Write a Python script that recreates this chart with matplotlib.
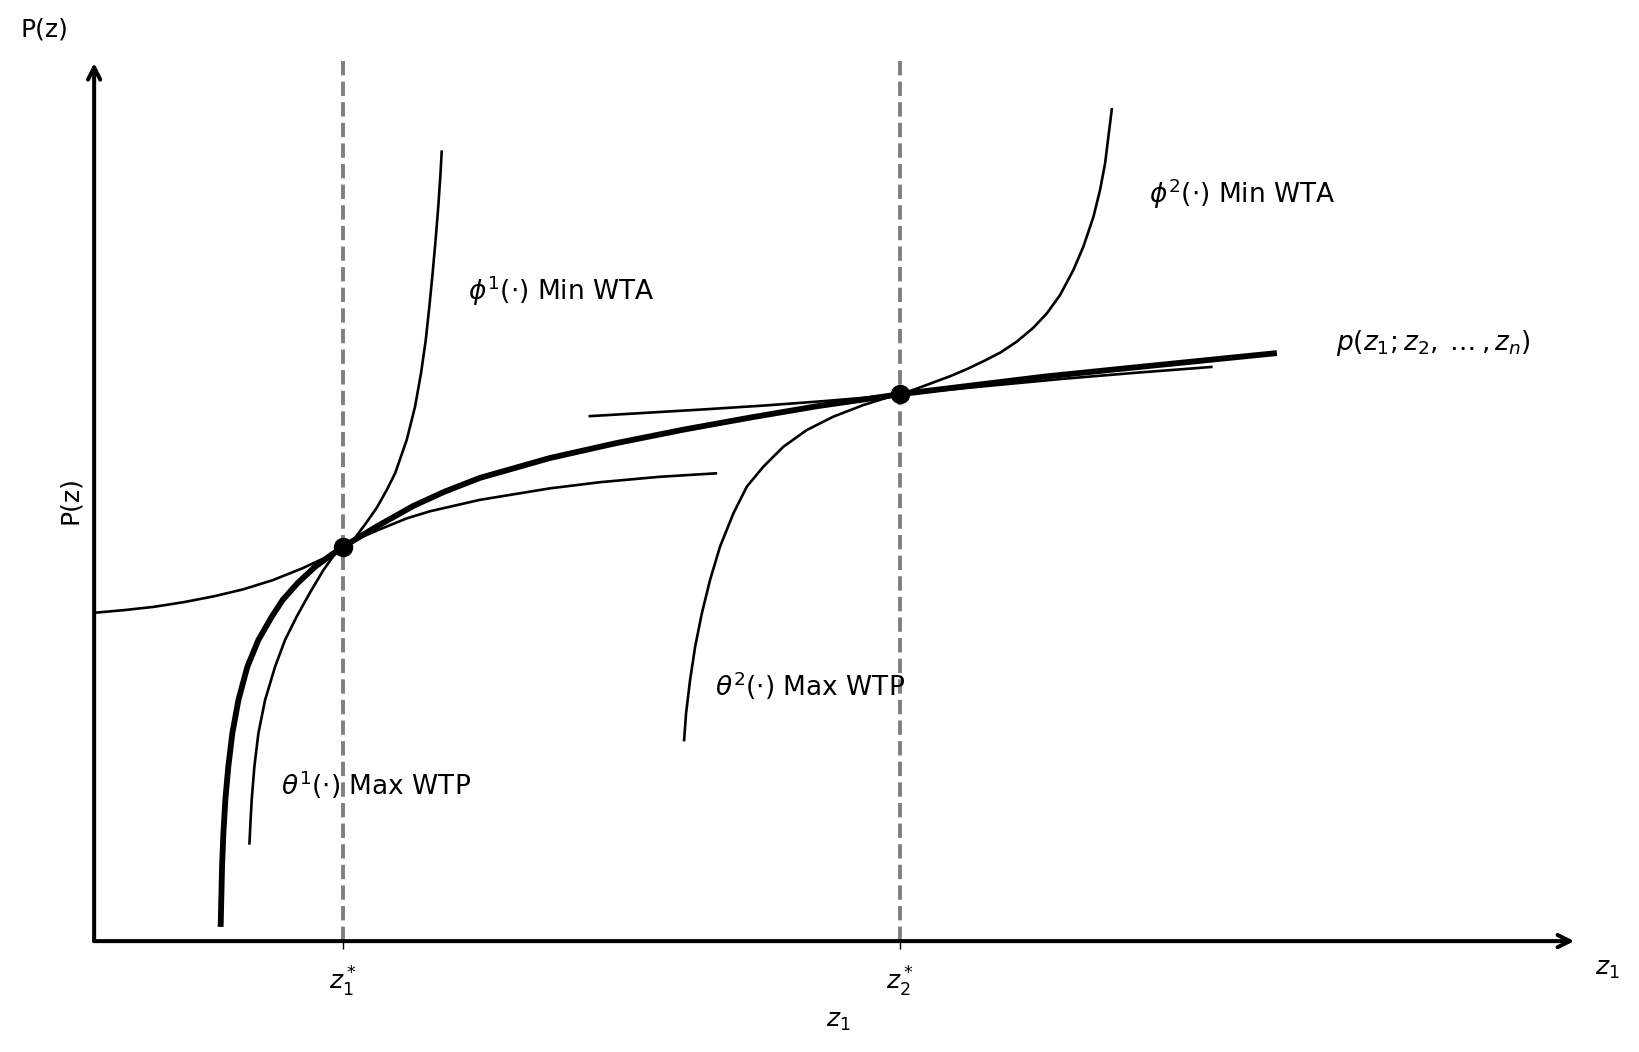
import numpy as np
import matplotlib
matplotlib.use("Agg")
import matplotlib.pyplot as plt

# hedonic price function p(z1; z2, ..., zn)
p_x = [0.850, 0.859, 0.868, 0.881, 0.901, 0.928, 0.969, 1.029, 1.103, 1.193,
       1.266, 1.365, 1.484, 1.596, 1.672, 1.90, 2.142, 2.35, 2.592, 3.062,
       3.5, 3.955, 4.4, 4.853, 5.415, 6.392, 6.9, 7.923]
p_y = [0.194, 0.843, 1.221, 1.599, 1.976, 2.354, 2.732, 3.109, 3.412, 3.676,
       3.865, 4.054, 4.242, 4.380, 4.467, 4.700, 4.929, 5.090, 5.249, 5.474,
       5.640, 5.794, 5.930, 6.060, 6.197, 6.398, 6.485, 6.659]

# bid curve consumer 1 (max WTP)
theta1_x = [1.043, 1.050, 1.058, 1.076, 1.103, 1.148, 1.215, 1.282, 1.360,
            1.450, 1.540, 1.610, 1.672, 1.80, 1.918, 2.10, 2.255, 2.592,
            3.062, 3.400, 3.793, 4.175]
theta1_y = [1.108, 1.350, 1.599, 1.976, 2.354, 2.732, 3.109, 3.412, 3.676,
            3.950, 4.205, 4.370, 4.467, 4.580, 4.665, 4.790, 4.870, 5.000,
            5.130, 5.200, 5.260, 5.300]

# offer curve producer 1 (min WTA)
phi1_x = [0.0, 0.2, 0.4, 0.6, 0.8, 1.0, 1.2, 1.4, 1.55, 1.672, 1.741, 1.819,
          1.898, 1.965, 2.021, 2.099, 2.155, 2.195, 2.227, 2.251, 2.273,
          2.293, 2.311, 2.326, 2.334]
phi1_y = [3.720, 3.750, 3.787, 3.840, 3.905, 3.985, 4.090, 4.225, 4.343,
          4.467, 4.545, 4.720, 4.910, 5.111, 5.300, 5.678, 6.055, 6.433,
          6.811, 7.188, 7.566, 7.944, 8.321, 8.699, 8.944]

# bid curve consumer 2
theta2_x = [3.962, 3.975, 4.002, 4.036, 4.081, 4.136, 4.203, 4.293, 4.383,
            4.494, 4.629, 4.786, 4.964, 5.166, 5.345, 5.415, 6.0, 6.5, 7.0,
            7.502]
theta2_y = [2.278, 2.581, 2.958, 3.336, 3.714, 4.091, 4.469, 4.847, 5.149,
            5.375, 5.602, 5.791, 5.942, 6.074, 6.168, 6.197, 6.29, 6.37, 6.44,
            6.505]

# offer curve producer 2
phi2_x = [3.329, 3.7, 4.1, 4.5, 4.9, 5.2, 5.415, 5.525, 5.636, 5.748, 5.860,
          5.972, 6.084, 6.196, 6.308, 6.398, 6.487, 6.576, 6.643, 6.711,
          6.755, 6.789, 6.811, 6.834]
phi2_y = [5.948, 5.985, 6.025, 6.068, 6.118, 6.160, 6.197, 6.260, 6.330,
          6.400, 6.480, 6.570, 6.667, 6.792, 6.951, 7.113, 7.321, 7.604,
          7.868, 8.208, 8.510, 8.812, 9.114, 9.424]

# equilibrium points
eq_x = [1.672, 5.415]
eq_y = [4.467, 6.197]
eq_labels = [r"$z_1^*$", r"$z_2^*$"]

fig = plt.figure(figsize=(16.4, 10.52), dpi=100)
ax = fig.add_axes([0.0574, 0.1054, 0.908, 0.839])
ax.set_xlim(0, 10)
ax.set_ylim(0, 10)
for s in ax.spines.values():
    s.set_visible(False)

for xv in eq_x:
    ax.axvline(xv, color="gray", linestyle="--", lw=2.8, dashes=(3.7, 1.6))

ax.plot(p_x, p_y, color="black", lw=4.2, solid_joinstyle="round")
for cx, cy in [(theta1_x, theta1_y), (phi1_x, phi1_y),
               (theta2_x, theta2_y), (phi2_x, phi2_y)]:
    ax.plot(cx, cy, color="black", lw=1.9, solid_joinstyle="round")
ax.plot(eq_x, eq_y, "o", color="black", ms=13, zorder=5)

# axes arrows
for tip in [(9.94, 0), (0, 9.95)]:
    ax.annotate("", xy=tip, xytext=(0, 0),
                arrowprops=dict(arrowstyle="->", lw=2.9, color="black",
                                shrinkA=0, shrinkB=0, mutation_scale=22),
                annotation_clip=False)

ax.set_xticks(eq_x)
ax.set_xticklabels(eq_labels, fontsize=18)
ax.tick_params(axis="x", length=6, width=1, pad=11)
ax.set_yticks([])
ax.set_xlabel(r"$z_1$", fontsize=18, labelpad=7)
ax.set_ylabel("P(z)", fontsize=18, labelpad=9)

ax.text(-0.337, 10.33, "P(z)", fontsize=18, ha="center", va="center")
ax.text(10.164, -0.32, r"$z_1$", fontsize=18, ha="center", va="center")

ax.text(2.508, 7.37, r"$\phi^1(\cdot)$ Min WTA", fontsize=19, va="center")
ax.text(7.087, 8.472, r"$\phi^2(\cdot)$ Min WTA", fontsize=19, va="center")
ax.text(8.337, 6.777, r"$p(z_1; z_2,\:\ldots\:,z_n)$", fontsize=19, va="center")
ax.text(4.172, 2.891, r"$\theta^2(\cdot)$ Max WTP", fontsize=19, va="center")
ax.text(1.257, 1.777, r"$\theta^1(\cdot)$ Max WTP", fontsize=19, va="center")

fig.savefig("out.png", dpi=100)
